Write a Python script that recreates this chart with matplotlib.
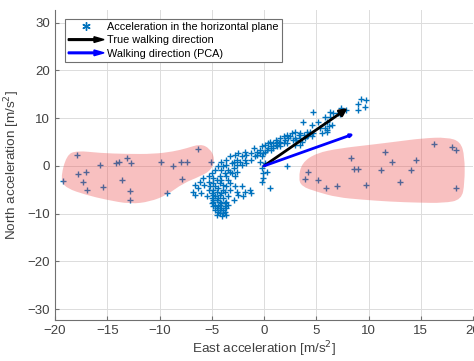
import matplotlib.pyplot as plt
from matplotlib.patches import FancyArrow, PathPatch
from matplotlib.path import Path
from matplotlib.legend_handler import HandlerPatch
from matplotlib.lines import Line2D

plt.rcParams['font.family'] = ['Liberation Sans', 'DejaVu Sans']

# horizontal acceleration samples (east, north) in m/s^2
east = [4.7, 6.3, 6.6, 7.1, 5.8, 6.3, 3.7, 5.2, 6.0, 4.6, 6.5, 6.2, 5.4, 5.8, 6.0,
        3.0, 4.1, 4.4, 6.0, 2.7, 3.4, 4.7, 5.5, 2.2, 3.3, 3.8, 4.2, 1.9, 2.5, 4.1,
        4.6, 1.5, 2.3, 3.0, 3.4, 3.9, 1.1, 2.0, 2.8, 3.1, 0.6, 1.2, 1.5, 3.6, 0.4,
        0.9, 1.4, 1.9, 2.2, 0.1, 1.1, 3.0, 3.4, -0.2, 0.7, 1.2, 1.5, -1.0, 0.4, 0.9,
        -0.4, 0.3, 0.7, -1.8, -0.7, 0.1, -2.5, -1.2, -0.4, -0.1, -2.8, -1.7, -0.7,
        -3.3, -2.1, -0.9, -0.2, -3.6, -2.6, -1.8, -1.2, -4.1, -2.9, -2.3, -0.4,
        -3.1, -1.7, 0.1, -3.6, -2.6, -2.1, -4.4, -3.9, 2.2, -2.9, -0.2, -4.7, -4.1,
        -3.4, -3.3, -2.6, 0.3, -5.0, -3.7, -3.1, -0.1, -5.3, -4.2, -3.6, -2.8,
        -5.8, -4.9, -0.1, -4.5, -4.1, -3.4, -6.1, -5.3, -0.2, -4.9, -4.2, -3.3,
        -6.6, -5.7, -3.9, -5.2, -4.7, -3.6, -2.8, -2.1, -6.3, -4.4, 0.6, -5.3,
        -4.9, -3.9, -3.3, -1.3, -6.8, -4.5, -3.7, -2.6, -1.8, -6.0, -5.0, -4.1,
        -1.2, -6.6, -4.9, -4.2, -2.5, -5.5, -4.7, -3.4, -2.0, -5.0, -4.4, -3.9,
        -4.9, -4.5, -2.9, -4.9, -4.2, -3.6, -5.0, -4.1, -3.7, -4.7, -4.2, -3.4,
        -4.9, -4.4, -3.7, -4.5, -4.1, -3.6, -4.7, -4.2, -3.9, -4.4, -3.7, -4.2,
        -3.9, -4.5, -4.0, -3.6, 9.3, 9.8, 9.0, 9.7, 9.0, 7.8, 7.4, 7.3]
north = [11.4, 11.4, 11.0, 11.0, 10.3, 10.3, 9.3, 9.3, 9.3, 8.6, 8.6, 8.3, 7.9, 7.9, 7.6,
         7.2, 7.2, 7.2, 7.0, 6.9, 6.9, 6.9, 6.9, 6.5, 6.5, 6.5, 6.5, 6.2, 6.2, 6.2,
         6.2, 5.8, 5.8, 5.8, 5.8, 5.8, 5.5, 5.5, 5.5, 5.5, 5.1, 5.1, 5.1, 5.1, 4.8,
         4.8, 4.8, 4.8, 4.8, 4.4, 4.4, 4.4, 4.4, 4.1, 4.1, 4.1, 4.1, 3.7, 3.7, 3.7,
         3.4, 3.4, 3.4, 3.0, 3.0, 3.0, 2.7, 2.7, 2.7, 2.7, 2.3, 2.3, 2.3,
         2.0, 2.0, 2.0, 2.0, 1.3, 1.3, 1.3, 1.3, 0.9, 0.9, 0.9, 0.9,
         0.6, 0.6, 0.6, 0.2, 0.2, 0.2, -0.1, -0.1, -0.1, -0.5, -0.5, -0.8, -0.8,
         -0.8, -1.2, -1.2, -1.2, -1.5, -1.5, -1.5, -1.5, -2.2, -2.2, -2.2, -2.2,
         -2.6, -2.6, -2.6, -2.9, -2.9, -2.9, -3.3, -3.3, -3.3, -3.6, -3.6, -3.6,
         -4.0, -4.0, -4.0, -4.3, -4.3, -4.3, -4.3, -4.3, -4.7, -4.7, -4.7, -5.0,
         -5.0, -5.0, -5.0, -5.0, -5.4, -5.4, -5.4, -5.4, -5.4, -5.7, -5.7, -5.7,
         -5.7, -6.1, -6.1, -6.1, -6.1, -6.4, -6.4, -6.4, -6.4, -6.8, -6.8, -6.8,
         -7.1, -7.1, -7.1, -7.5, -7.5, -7.5, -7.8, -7.8, -7.8, -8.2, -8.2, -8.2,
         -8.5, -8.5, -8.5, -8.9, -8.9, -8.9, -9.2, -9.2, -9.2, -9.6, -9.6, -9.9,
         -9.9, -10.3, -10.5, -10.2, 14.0, 13.8, 12.9, 12.4, 11.7, 11.7, 12.1, 10.9]

# outliers inside the shaded regions
left_east = [-17.9, -19.2, -17.8, -17.0, -17.3, -16.9, -15.7, -15.4, -14.2, -13.9, -13.1, -12.7,
             -13.6, -12.8, -12.8, -9.9, -8.7, -7.9, -7.4, -7.8, -9.3, -6.3, -5.1]
left_north = [2.2, -3.1, -1.7, -1.3, -3.3, -5.0, 0.1, -4.5, 0.6, 0.9, 1.7, 0.6,
              -2.9, -5.2, -7.1, 0.8, 0.0, 0.8, 0.9, -2.8, -5.7, 3.5, 0.8]
right_east = [8.3, 8.6, 9.0, 11.6, 12.2, 11.2, 9.8, 13.0, 14.1, 14.5, 16.3, 18.0, 18.4, 18.4,
              4.2, 3.9, 5.2, 5.9, 7.0]
right_north = [1.7, -0.6, -0.7, 3.0, 0.9, -0.8, -4.0, -3.3, -0.8, 1.2, 4.5, 3.9, 3.4, -4.7,
               -1.3, -2.7, -2.9, -4.7, -4.2]

# walking directions (arrow tips)
true_dir = (8.0, 12.1)
pca_dir = (8.6, 6.7)

# outlines of the shaded regions
left_blob = [(-19.5, -2.9), (-18.9, 2.3), (-17.9, 3.2), (-15.7, 2.7), (-13.1, 2.5), (-10.6, 2.5),
             (-8.7, 3.0), (-7.4, 3.7), (-6.1, 4.6), (-5.2, 3.7), (-4.7, 1.6), (-5.0, -0.8),
             (-6.1, -2.2), (-7.7, -3.6), (-9.3, -6.1), (-10.9, -7.5), (-12.8, -8.0),
             (-15.1, -7.1), (-17.0, -6.1), (-18.9, -4.7)]
right_blob = [(3.3, -2.6), (3.6, 0.6), (5.0, 2.7), (7.3, 3.7), (10.1, 4.4), (12.7, 5.1),
              (15.2, 5.8), (17.5, 6.0), (18.8, 5.1), (19.2, 2.0), (19.2, -3.6), (18.9, -7.1),
              (17.2, -7.8), (14.6, -7.7), (12.1, -7.5), (9.5, -7.1), (7.0, -6.6), (5.0, -5.4),
              (3.6, -4.3)]


def smooth_patch(pts):
    # closed quadratic bezier through midpoints, control points = outline pts
    n = len(pts)
    mid = lambda a, b: ((a[0] + b[0]) / 2, (a[1] + b[1]) / 2)
    verts = [mid(pts[-1], pts[0])]
    codes = [Path.MOVETO]
    for i in range(n):
        verts += [pts[i], mid(pts[i], pts[(i + 1) % n])]
        codes += [Path.CURVE3, Path.CURVE3]
    return PathPatch(Path(verts, codes), facecolor=(0.93, 0.3, 0.3), alpha=0.35,
                     edgecolor='none', zorder=4)


def make_arrow(legend, orig_handle, xdescent, ydescent, width, height, fontsize):
    return FancyArrow(0, height / 2, width, 0, length_includes_head=True, width=height * 0.22,
                      head_width=height * 0.75, head_length=width * 0.28)


fig = plt.figure(figsize=(4.74, 3.61), dpi=100)
ax = fig.add_axes([0.116, 0.1136, 0.882, 0.859])

blue = '#0072BD'
ax.plot(east + left_east + right_east, north + left_north + right_north, '+', color=blue,
        ms=3.8, mew=1.0, zorder=3)

ax.add_patch(smooth_patch(left_blob))
ax.add_patch(smooth_patch(right_blob))

ax.annotate('', xy=true_dir, xytext=(0, 0), zorder=5,
            arrowprops=dict(arrowstyle='-|>', color='k', lw=2, mutation_scale=11,
                            shrinkA=0, shrinkB=0))
ax.annotate('', xy=pca_dir, xytext=(0, 0), zorder=5,
            arrowprops=dict(arrowstyle='-|>', color='#0000FF', lw=2, mutation_scale=4,
                            shrinkA=0, shrinkB=0))

ax.set_xlim(-20, 20)
ax.set_ylim(-32.3, 32.7)
ax.set_xticks(range(-20, 21, 5))
ax.set_yticks(range(-30, 31, 10))
ax.grid(True, color='#dcdcdc', lw=0.7)
ax.set_axisbelow(True)
for s in ['top', 'right']:
    ax.spines[s].set_visible(False)
for s in ['left', 'bottom']:
    ax.spines[s].set_color('#707070')
ax.tick_params(direction='in', length=3, colors='#707070', labelcolor='#404040', labelsize=9.5)

ax.set_xlabel('East acceleration [m/s$^2$]', fontsize=9.7, color='#404040', labelpad=2)
ax.set_ylabel('North acceleration [m/s$^2$]', fontsize=9.7, color='#404040')
ax.yaxis.set_label_coords(-0.079, 0.5)

h_pts = Line2D([], [], ls='none', marker=(6, 2, 0), color=blue, ms=6, mew=1)
h_true = FancyArrow(0, 0, 1, 0, color='k')
h_pca = FancyArrow(0, 0, 1, 0, color='#0000FF')
leg = ax.legend([h_pts, h_true, h_pca],
                ['Acceleration in the horizontal plane', 'True walking direction',
                 'Walking direction (PCA)'],
                handler_map={FancyArrow: HandlerPatch(patch_func=make_arrow)},
                loc='upper left', bbox_to_anchor=(0.024, 0.971), borderaxespad=0,
                fontsize=7.8, fancybox=False, framealpha=1, edgecolor='#707070',
                handlelength=3.3, handletextpad=0.3, labelspacing=0.3, borderpad=0.3)
leg.get_frame().set_linewidth(0.8)

plt.savefig('out.png', dpi=100)
